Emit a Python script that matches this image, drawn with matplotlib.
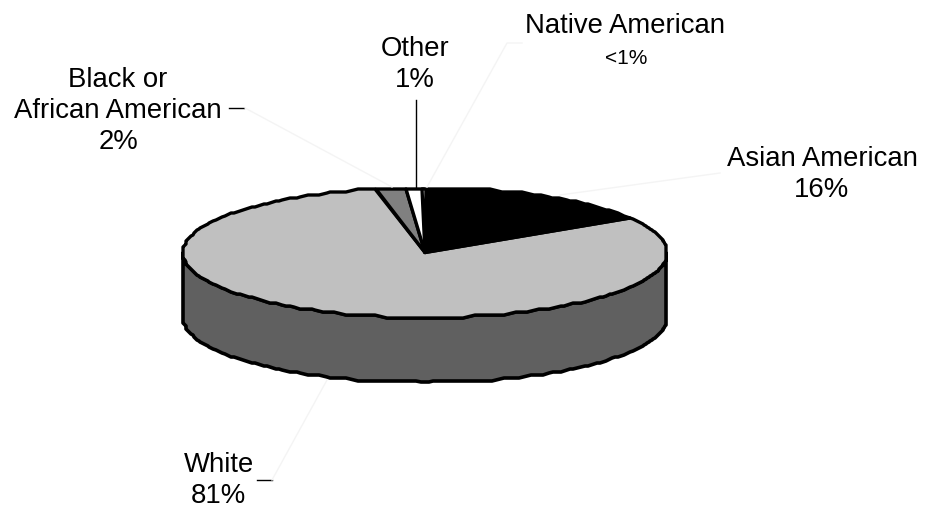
import matplotlib
matplotlib.use("Agg")
import matplotlib.pyplot as plt
import numpy as np

plt.rcParams['font.family'] = ['Liberation Sans', 'DejaVu Sans']

# shares, clockwise from the white/asian edge
groups = ['White', 'Black or African American', 'Other', 'Native American', 'Asian American']
shares = [81, 2, 1, 0.4, 16]
colors = ['#c0c0c0', '#808080', '#ffffff', '#ffffff', '#000000']
side_color = '#606060'

# pie geometry in pixels
cx, cy = 425, 252.5
rx, ry = 242, 65
depth = 65
start = 58.0  # degrees clockwise from the top
step = 3.0    # rim is wobbly in the original
win = 3


def rim(a0, a1, dy=0):
    # rounded to a coarse grid, then smoothed a bit to get the wobble
    t = np.radians(np.arange(a0 - 1, a1 + 1.5, 1.0))
    x = np.round((cx + rx * np.sin(t)) / step) * step
    y = np.round((cy - ry * np.cos(t) + dy) / step) * step
    kernel = np.ones(win) / win
    return np.convolve(x, kernel, 'valid'), np.convolve(y, kernel, 'valid')


fig = plt.figure(figsize=(9.33, 5.08), dpi=100)
ax = fig.add_axes([0, 0, 1, 1])
ax.set_xlim(0, 933)
ax.set_ylim(508, 0)
ax.axis('off')

# side wall, front half only
xt, yt = rim(90, 270)
xb, yb = rim(90, 270, depth)
ax.fill(np.r_[xt, xb[::-1]], np.r_[yt, yb[::-1]], fc=side_color, ec='black', lw=2.6, joinstyle='round')

# top wedges
angles = start + np.r_[0, np.cumsum(shares)] * 360 / sum(shares)
for i, c in enumerate(colors):
    xw, yw = rim(angles[i], angles[i + 1])
    ax.fill(np.r_[cx, xw], np.r_[cy, yw], fc=c, ec='black', lw=2.4, joinstyle='round')

# leader lines
ax.plot([229, 244], [108, 108], color='black', lw=1)
ax.plot([257, 272], [480, 480], color='black', lw=1)
ax.plot([245, 392], [108, 187], color='#f4f4f4', lw=1)
ax.plot([272, 327], [480, 380], color='#f4f4f4', lw=1)
ax.plot([416, 416], [100, 187], color='black', lw=1)
ax.plot([522, 507, 427], [43, 43, 187], color='#f4f4f4', lw=1)
ax.plot([560, 720], [195, 173], color='#f4f4f4', lw=1)

fs = 19.8
ls = 1.25
ax.text(118, 111, 'Black or\nAfrican American\n2%', fontsize=fs, ha='center', va='center', linespacing=ls)
ax.text(415, 64.5, 'Other\n1%', fontsize=fs, ha='center', va='center', linespacing=ls)
ax.text(625, 26, 'Native American', fontsize=fs, ha='center', va='center')
ax.text(626, 59, '<1%', fontsize=15, ha='center', va='center')
ax.text(822, 174.5, 'Asian American\n16%', fontsize=fs, ha='center', va='center', linespacing=ls)
ax.text(218.5, 480.5, 'White\n81%', fontsize=fs, ha='center', va='center', linespacing=ls)

fig.savefig('out.png', dpi=100)
